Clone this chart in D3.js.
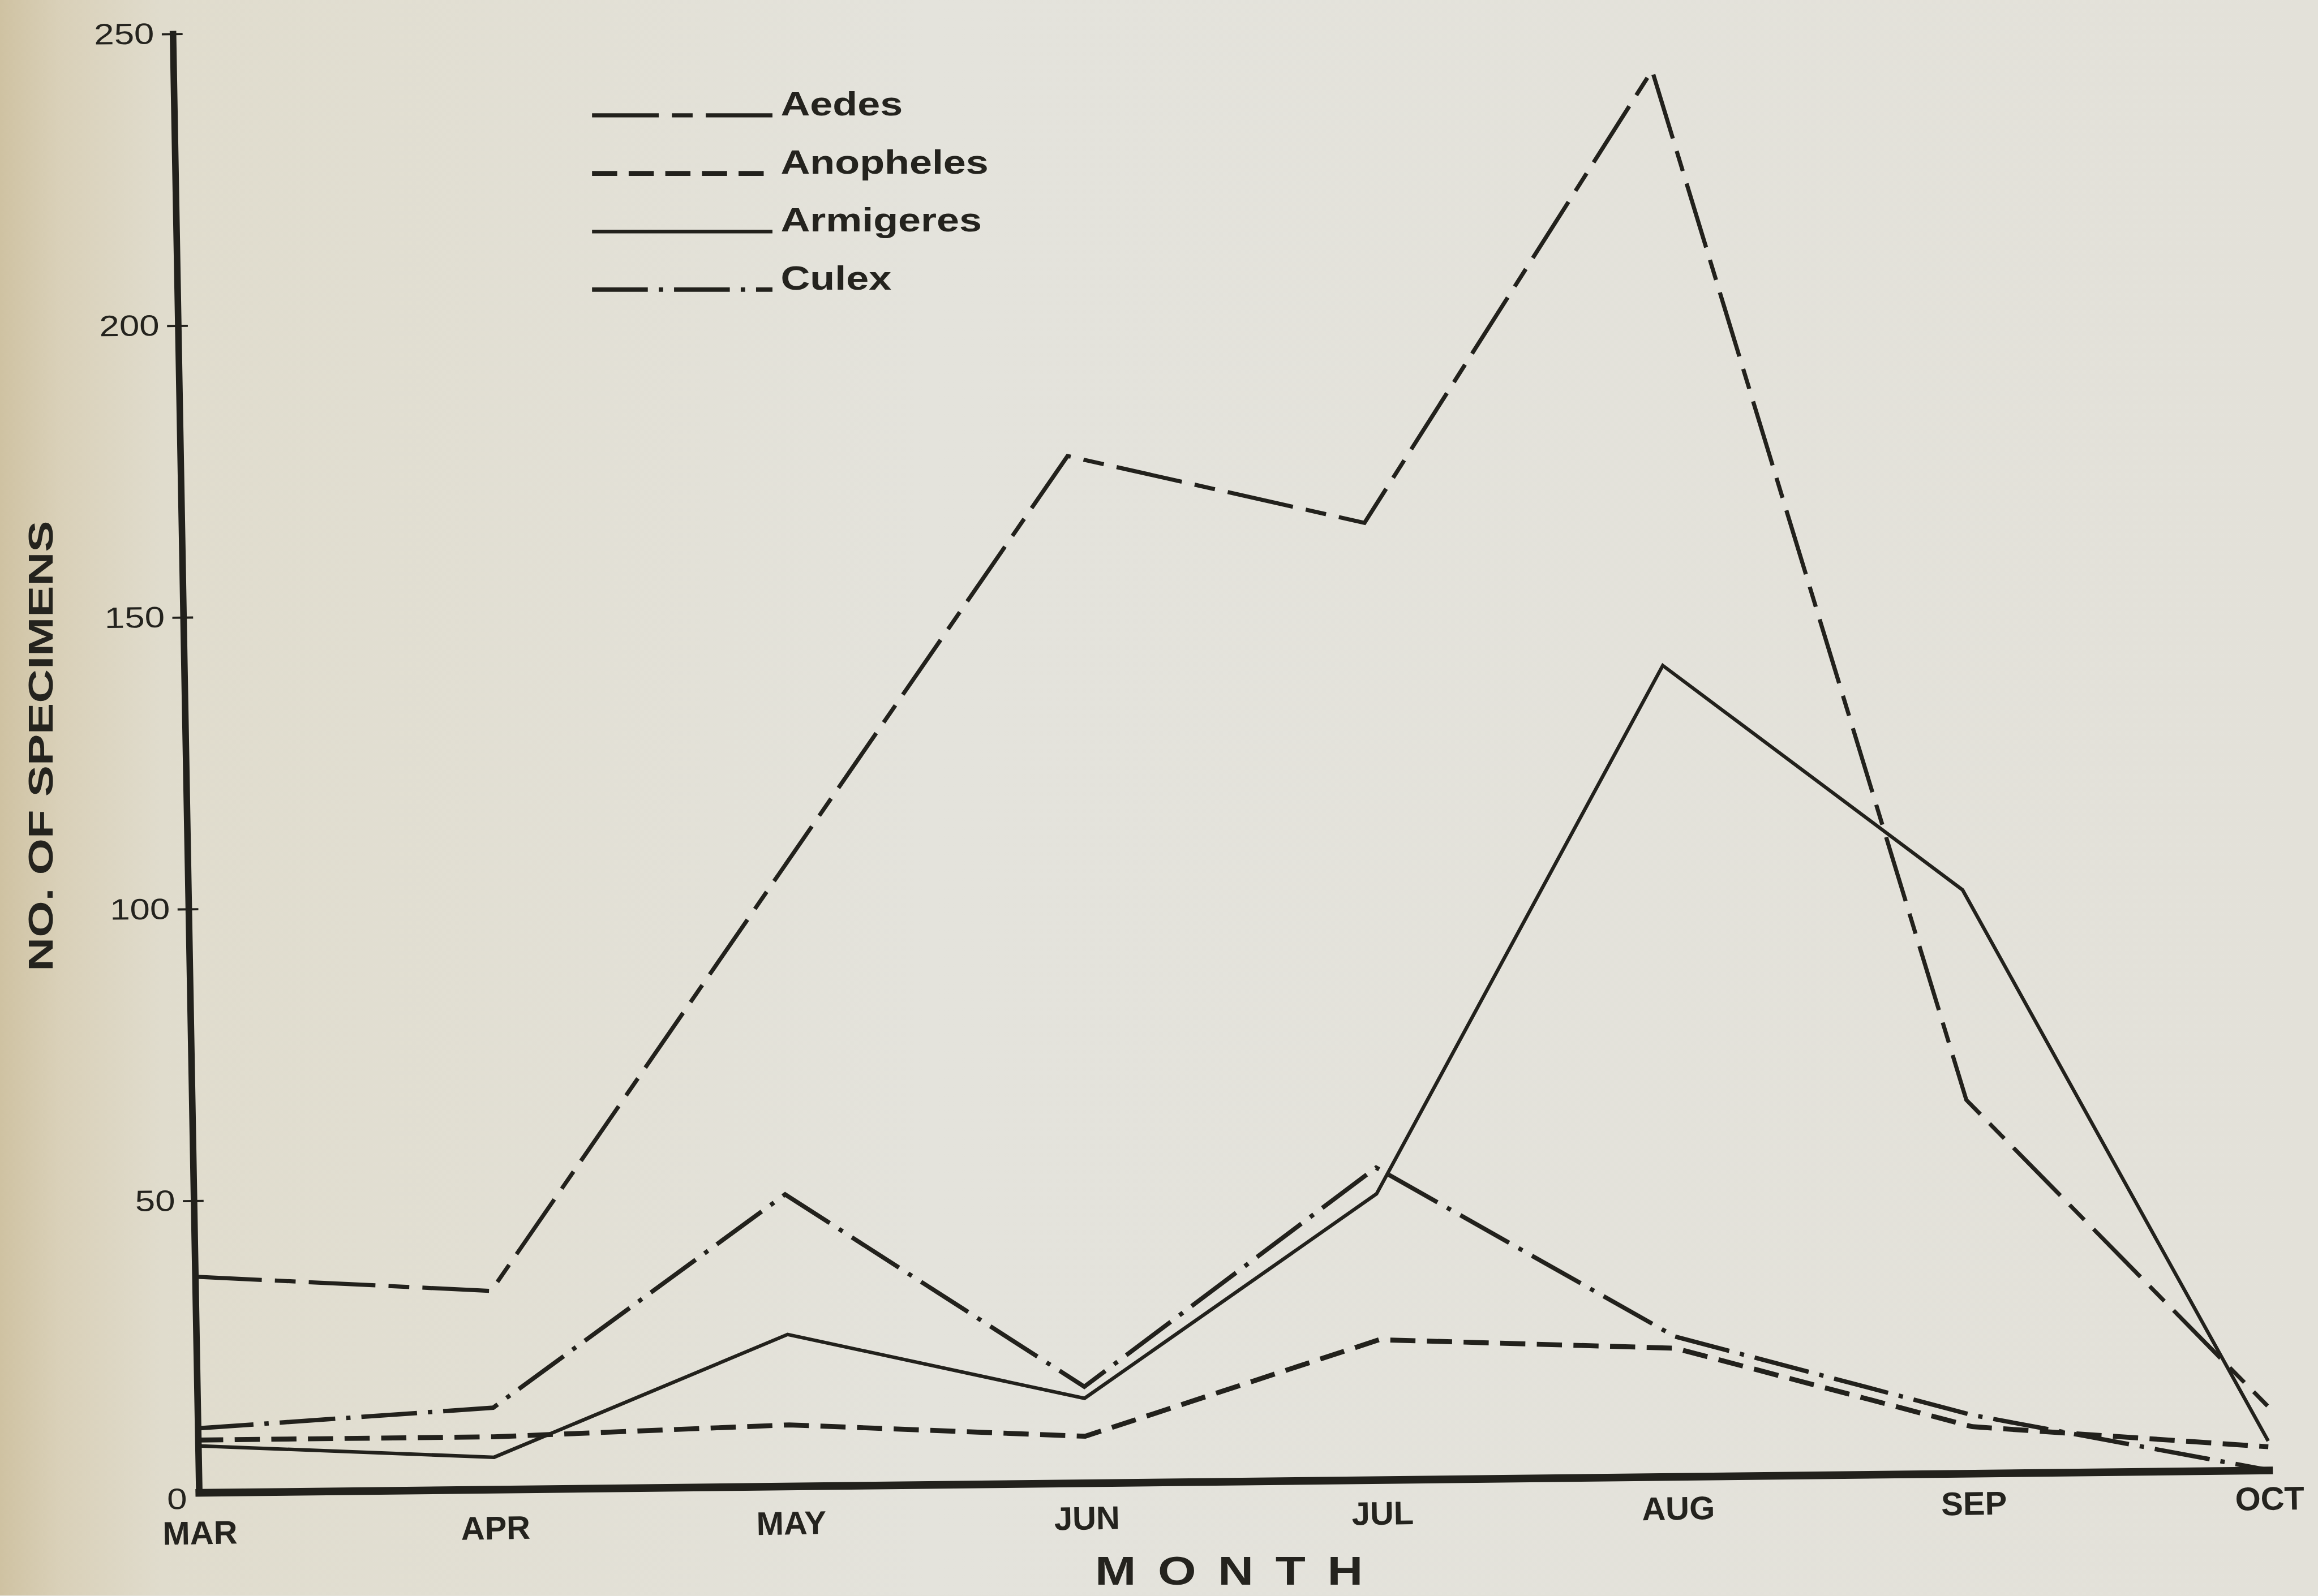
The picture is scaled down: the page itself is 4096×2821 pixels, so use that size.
<!DOCTYPE html>
<html>
<head>
<meta charset="utf-8">
<script src="https://cdnjs.cloudflare.com/ajax/libs/d3/7.8.5/d3.min.js"></script>
<style>
  html, body { margin: 0; padding: 0; overflow: hidden; background: #e3e1d9; }
  text { font-family: "Liberation Sans", Arial, sans-serif; fill: #24231e; }
</style>
</head>
<body>
<div id="chart"></div>
<script>
// monthly counts
const months = ["MAR", "APR", "MAY", "JUN", "JUL", "AUG", "SEP", "OCT"];
const aedes = [37, 34, 105, 176, 164, 241, 64, 11];
const anopheles = [9, 9, 10.5, 8, 24, 22, 8, 4];
const armigeres = [8, 5.5, 26, 14.5, 49, 139, 100, 5];
const culex = [11, 14, 50, 16.5, 53.5, 24, 10, 0];
const yTicks = [0, 50, 100, 150, 200, 250];
const seriesNames = ["Aedes", "Anopheles", "Armigeres", "Culex"];
const seriesValues = [aedes, anopheles, armigeres, culex];

const S = 0.966;            // reference -> window
const refW = 4239, refH = 2919;
const W = 3786, H = 2669;   // plot size in reference pixels
const ink = "#22211c";

// line looks (dash patterns as in the printed legend)
const looks = {
    Aedes: {dash: "122,24,38,24", width: 7.5},
    Anopheles: {dash: "46,21", width: 9},
    Armigeres: {dash: null, width: 6.5},
    Culex: {dash: "102,20,8,20", width: 8}
};

const svg = d3.select("#chart")
    .append("svg")
    .attr("width", 4096)
    .attr("height", 2821);

// paper tone, darker at the binding on the left
const grad = svg.append("defs").append("linearGradient").attr("id", "paper");
[["0%", "#cfc2a2"], ["2.5%", "#d9d0b8"], ["7%", "#e0dccd"], ["40%", "#e4e3dc"], ["100%", "#e3e1d9"]]
    .forEach(([o, c]) => grad.append("stop").attr("offset", o).attr("stop-color", c));

const root = svg.append("g").attr("transform", `scale(${S})`);
root.append("rect").attr("width", refW).attr("height", refH).attr("fill", "url(#paper)");

// the photo is slightly tilted/sheared, so the plot lives in a skewed frame
const plot = root.append("g").attr("transform", "matrix(1,-0.01083,0.018,1,316,62)");

const x = d3.scalePoint().domain(months).range([0, W]);
const y = d3.scaleLinear().domain([0, 250]).range([H, 0]);

// data lines
const line = d3.line().x((d, i) => x(months[i])).y(d => y(d));
seriesNames.forEach((name, k) => {
    plot.append("path")
        .datum(seriesValues[k])
        .attr("d", line)
        .attr("fill", "none")
        .attr("stroke", ink)
        .attr("stroke-width", looks[name].width)
        .attr("stroke-dasharray", looks[name].dash)
        .attr("stroke-linejoin", "miter");
});

// y axis
const yAxis = d3.axisLeft(y)
    .tickValues(yTicks)
    .tickSize(20)
    .tickSizeOuter(0)
    .tickFormat(d3.format("d"));

const gy = plot.append("g").call(yAxis);
gy.select(".domain").attr("stroke", ink).attr("stroke-width", 12).attr("stroke-linecap", "square");
gy.selectAll(".tick line").attr("x1", 18).attr("stroke", ink).attr("stroke-width", 4);
gy.selectAll(".tick").filter(d => d === 0).select("line").remove();
gy.selectAll(".tick text")
    .attr("x", null)
    .attr("font-size", 54)
    .attr("fill", ink)
    .attr("transform", d => d === 0 ? "translate(-22,12) scale(1.22,1)" : "translate(-34,0) scale(1.22,1)");

// x axis line
const gx = plot.append("g")
    .attr("transform", `translate(0,${H})`)
    .call(d3.axisBottom(x).tickSize(0).tickSizeOuter(0).tickFormat(""));
gx.select(".domain").attr("stroke", ink).attr("stroke-width", 14).attr("stroke-linecap", "square");

// month labels (the print drifts a little closer to the axis towards the right)
const labels = root.append("g").attr("transform", "matrix(1,-0.0166,0.018,1,316,62)");
const gl = labels.append("g")
    .attr("transform", `translate(0,${H})`)
    .call(d3.axisBottom(x).tickSize(0).tickPadding(52));
gl.select(".domain").remove();
gl.selectAll(".tick text")
    .attr("font-size", 60)
    .attr("font-weight", "bold")
    .attr("fill", ink);

// axis titles
root.append("text")
    .attr("transform", "translate(74,1365) rotate(-90) scale(1.34,1)")
    .attr("text-anchor", "middle")
    .attr("dominant-baseline", "central")
    .attr("font-size", 64)
    .attr("font-weight", "bold")
    .text("NO. OF SPECIMENS");

root.append("text")
    .attr("transform", "translate(2268,2900) scale(1.25,1)")
    .attr("text-anchor", "middle")
    .attr("font-size", 72)
    .attr("font-weight", "bold")
    .attr("letter-spacing", 32)
    .text("MONTH");

// legend
const ly = d3.scalePoint().domain(seriesNames).range([211, 530]);
const legend = root.append("g");
seriesNames.forEach(name => {
    legend.append("line")
        .attr("x1", 1083).attr("x2", 1413)
        .attr("y1", ly(name)).attr("y2", ly(name))
        .attr("stroke", ink)
        .attr("stroke-width", looks[name].width)
        .attr("stroke-dasharray", looks[name].dash);
    legend.append("text")
        .attr("transform", `translate(1428,${ly(name)}) scale(1.2,1)`)
        .attr("font-size", 62)
        .attr("font-weight", "bold")
        .text(name);
});
</script>
</body>
</html>
